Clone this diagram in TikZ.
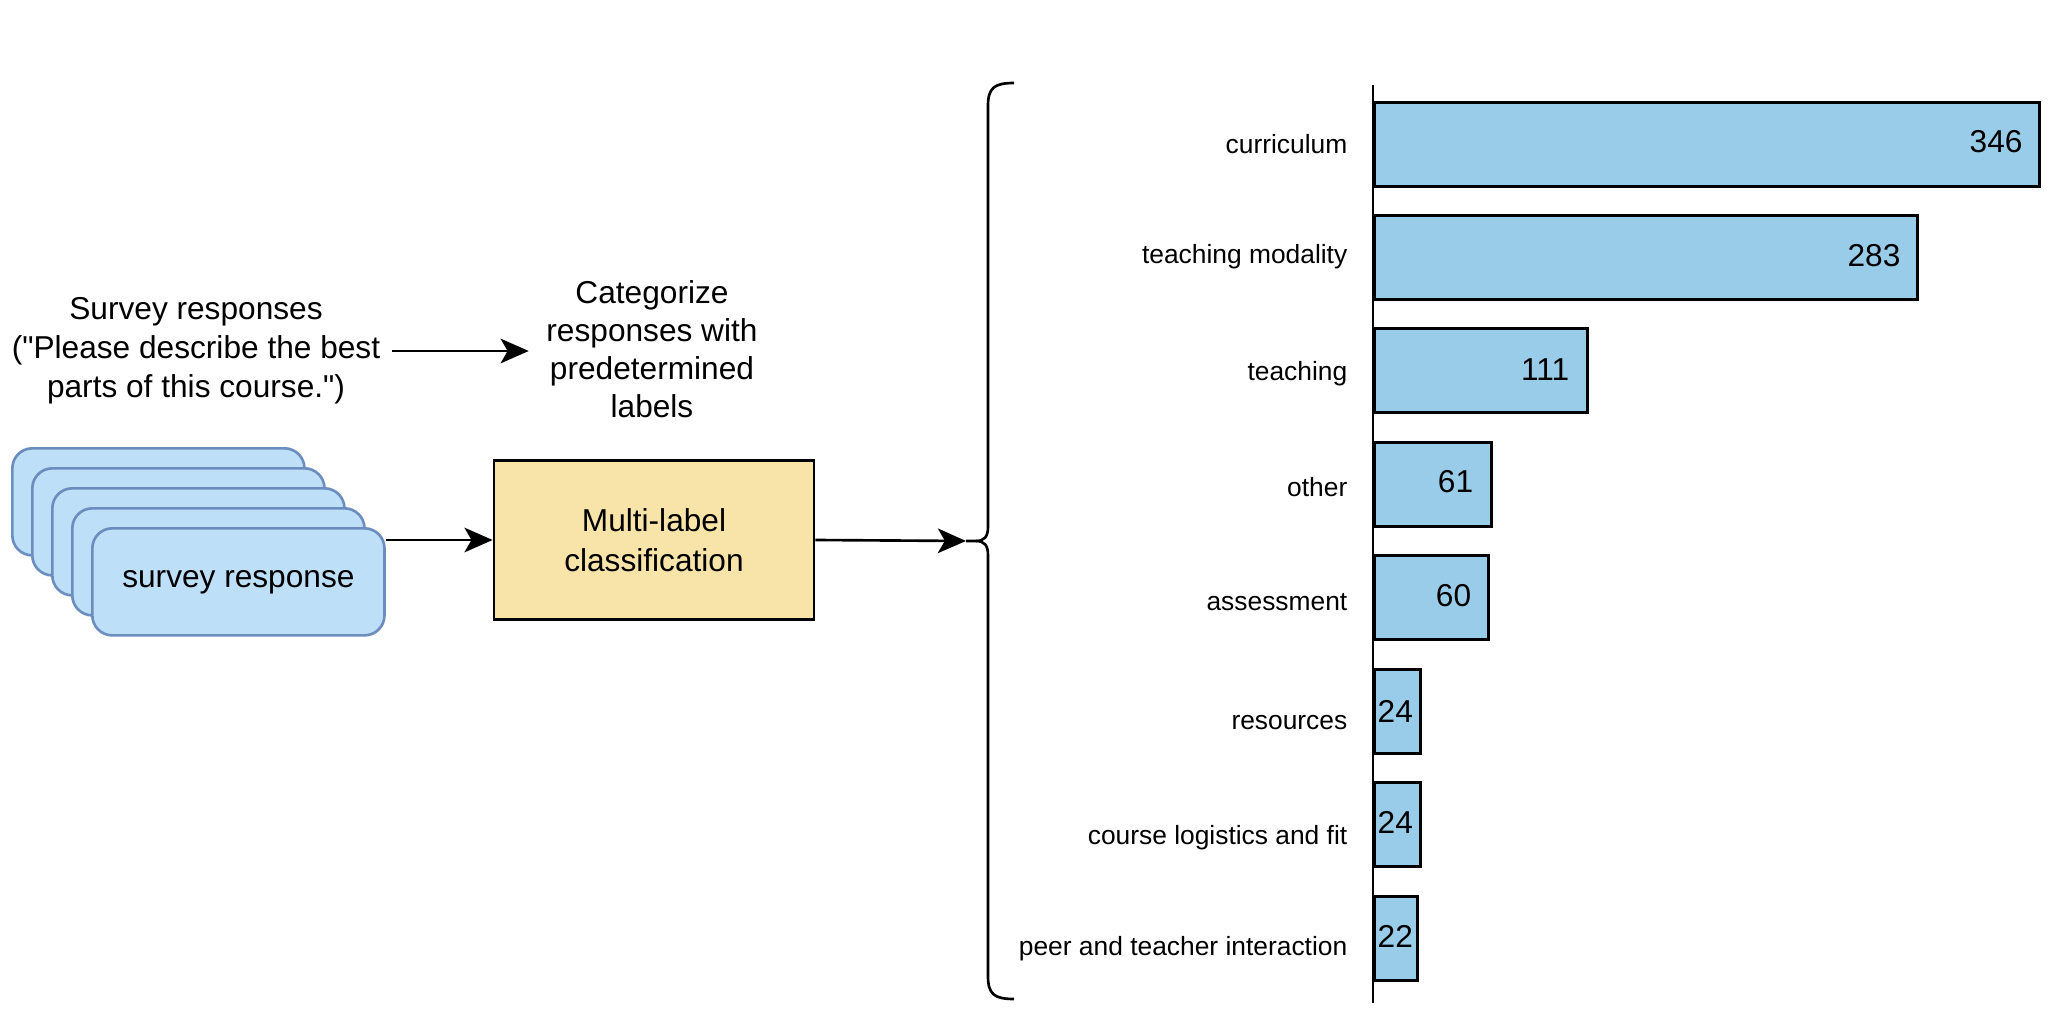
\documentclass[tikz,border=0pt]{standalone}
\usepackage{fontspec}
\setmainfont{Liberation Sans}
\usetikzlibrary{arrows.meta}

\definecolor{respfill}{HTML}{BDDFF7}
\definecolor{respline}{HTML}{6C8EBF}
\definecolor{mlfill}{HTML}{F8E4A8}
\definecolor{barfill}{HTML}{99CCE8}

\begin{document}
\begin{tikzpicture}[x=0.01cm, y=-0.01cm,
    txt/.style={align=center, inner sep=0.11cm, font=\fontsize{9}{10.8}\selectfont},
    resp/.style={draw=respline, fill=respfill, rounded corners=0.2cm, line width=0.75pt, minimum width=2.92cm, minimum height=1.07cm, anchor=north west, font=\fontsize{9}{10.8}\selectfont},
    mlbox/.style={draw, fill=mlfill, line width=0.75pt, minimum width=3.2cm, minimum height=1.59cm, align=center, font=\fontsize{9}{11.4}\selectfont},
    bar/.style={draw, fill=barfill, line width=0.8pt, minimum height=0.84cm, anchor=north west, inner sep=0},
    cat/.style={anchor=east, inner sep=0, font=\fontsize{7.5}{9}\selectfont},
    val/.style={inner sep=0, font=\fontsize{9}{10.8}\selectfont},
    arrow/.style={-{Stealth[length=8pt, width=7pt, inset=2pt]}, line width=0.75pt}
]
\useasboundingbox (0,0) rectangle (2062,1009);

% Survey question
\node[txt, font=\fontsize{9}{11.1}\selectfont] (survey) at (196, 351) {Survey responses\\(\textquotedbl Please describe the best\\parts of this course.\textquotedbl)};
\node[txt, inner xsep=0.17cm] (categ) at (652, 349) {Categorize\\responses with\\predetermined\\labels};

% Stack of responses
\node[resp] (resp1) at (11, 447) {};
\node[resp] (resp2) at (31, 467) {};
\node[resp] (resp3) at (51, 487) {};
\node[resp] (resp4) at (71, 507) {};
\node[resp] (resp5) at (91, 527) {survey response};

% Classifier
\node[mlbox] (ml) at (654, 540) {Multi-label\\classification};

% Brace
\coordinate (tip) at (966, 541);
\draw[line width=0.75pt] (1014, 83) .. controls (994, 83) and (988, 88) .. (988, 106)
    -- (988, 527) .. controls (988, 537) and (984, 541) .. (976, 541) -- (tip);
\draw[line width=0.75pt] (976, 541) .. controls (984, 541) and (988, 545) .. (988, 555)
    -- (988, 976) .. controls (988, 994) and (994, 999) .. (1014, 999);

% Arrows
\draw[arrow] (survey.east) -- (survey.east -| categ.west);
\draw[arrow] (resp5.east |- ml.west) -- (ml.west);
\draw[arrow] (ml.east) -- (tip);

% Chart axis
\coordinate (axtop) at (1373, 85);
\coordinate (axbot) at (1373, 1003);

% Bars
\node[bar, minimum width=6.65cm] (b1) at (1373, 101) {};
\node[bar, minimum width=5.43cm] (b2) at (1373, 214) {};
\node[bar, minimum width=2.13cm] (b3) at (1373, 327) {};
\node[bar, minimum width=1.17cm] (b4) at (1373, 441) {};
\node[bar, minimum width=1.14cm] (b5) at (1373, 554) {};
\node[bar, minimum width=0.46cm] (b6) at (1373, 668) {};
\node[bar, minimum width=0.46cm] (b7) at (1373, 781) {};
\node[bar, minimum width=0.43cm] (b8) at (1373, 895) {};
\draw[line width=0.6pt] (axtop) -- (axbot);

% Values
\node[val, anchor=east] (v1) at ([xshift=-0.18cm, yshift=0.03cm]b1.east) {346};
\node[val, anchor=east] (v2) at ([xshift=-0.18cm, yshift=0.02cm]b2.east) {283};
\node[val, anchor=east] (v3) at ([xshift=-0.19cm, yshift=0.01cm]b3.east) {111};
\node[val, anchor=east] (v4) at ([xshift=-0.19cm, yshift=0.03cm]b4.east) {61};
\node[val, anchor=east] (v5) at ([xshift=-0.18cm, yshift=0.02cm]b5.east) {60};
\node[val, anchor=west] (v6) at ([xshift=0.04cm]b6.west) {24};
\node[val, anchor=west] (v7) at ([xshift=0.04cm, yshift=0.02cm]b7.west) {24};
\node[val, anchor=west] (v8) at ([xshift=0.04cm, yshift=0.02cm]b8.west) {22};

% Categories
\node[cat] (c1) at (1348, 144) {curriculum};
\node[cat] (c2) at (1348, 257) {teaching modality};
\node[cat] (c3) at (1348, 374) {teaching};
\node[cat] (c4) at (1348, 487) {other};
\node[cat] (c5) at (1348, 602) {assessment};
\node[cat] (c6) at (1348, 723) {resources};
\node[cat] (c7) at (1348, 838) {course logistics and fit};
\node[cat] (c8) at (1348, 949) {peer and teacher interaction};

\end{tikzpicture}
\end{document}
